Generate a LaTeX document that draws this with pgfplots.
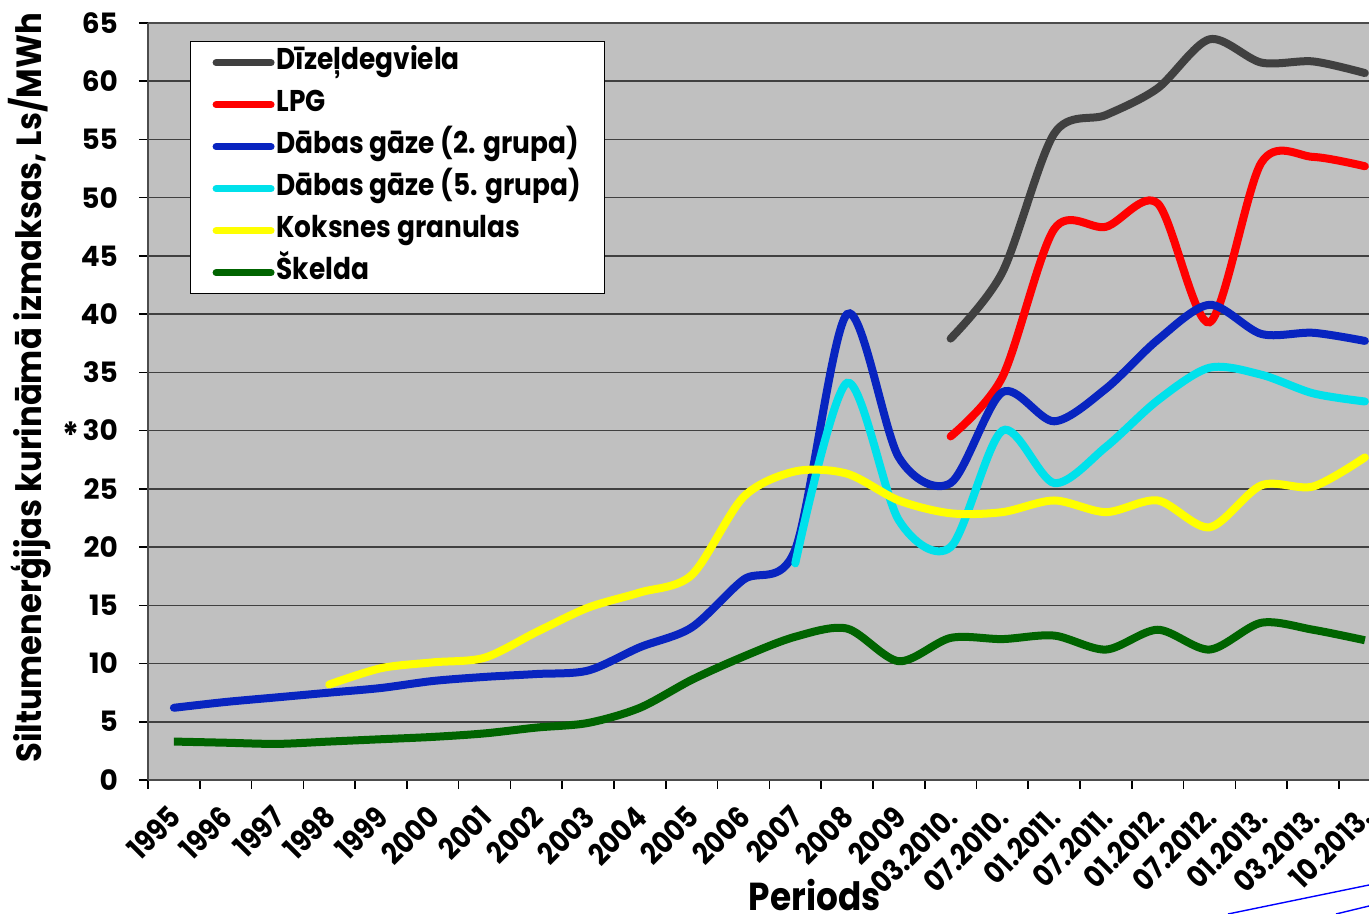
\documentclass[border=0pt]{standalone}
\usepackage{fontspec}
\setmainfont{Poppins}[FakeStretch=0.88]
\newfontfamily\lblfont{Poppins}[FakeStretch=0.92]
\newfontfamily\tickfont{Poppins}
\usepackage{pgfplots}
\pgfplotsset{compat=1.18}
\definecolor{cdiesel}{RGB}{64,64,64}
\definecolor{clpg}{RGB}{255,0,0}
\definecolor{cgas}{RGB}{8,36,192}
\definecolor{ccyan}{RGB}{0,225,235}
\definecolor{cyel}{RGB}{255,255,0}
\definecolor{cgreen}{RGB}{0,100,0}
\definecolor{cbg}{RGB}{192,192,192}
\begin{document}
\begin{tikzpicture}
\path[use as bounding box] (0,0) rectangle (684.5pt,457pt);
\begin{axis}[
  at={(74pt,67pt)}, anchor=south west,
  scale only axis, width=610.5pt, height=378.5pt,
  xmin=-0.5, xmax=23.08, ymin=0, ymax=65,
  axis background/.style={fill=cbg},
  axis x line=box, axis y line*=left,
  axis line style={draw=black!70, line width=1pt},
  ytick={0,5,...,65},
  ymajorgrids, grid style={draw=black!75, line width=0.8pt},
  xtick={0,...,23}, major x tick style={draw=none},
  minor xtick={-0.5,0.5,...,23.5},
  xtick pos=bottom, ytick pos=left,
  tick align=outside, major tick length=4.5pt, minor tick length=4.5pt,
  every tick/.style={draw=black, line width=0.8pt},
  xticklabels={1995,1996,1997,1998,1999,2000,2001,2002,2003,2004,2005,2006,2007,2008,2009,03.2010.,07.2010.,01.2011.,07.2011.,01.2012.,07.2012.,01.2013.,03.2013.,10.2013.},
  xticklabel style={xshift=-3.5pt, rotate=45, anchor=north east, font=\fontsize{15}{17}\selectfont\bfseries},
  xticklabel shift=2.5pt,
  yticklabel style={font=\tickfont\fontsize{14}{16}\selectfont\bfseries, xshift=-7pt},
  /pgf/number format/assume math mode=true,
  every axis y label/.style={at={(axis description cs:-0.0966,0.518)}, rotate=90, anchor=center},
  ylabel={Siltumenerģijas kurināmā izmaksas, Ls/MWh},
  ylabel style={font=\lblfont\fontsize{17.5}{20}\selectfont\bfseries},
  every axis x label/.style={at={(axis description cs:0.546,-0.152)}, anchor=center},
  xlabel={Periods},
  xlabel style={font=\fontsize{19.5}{24}\selectfont\bfseries},
  legend style={at={(rel axis cs:0.0344,0.976)}, anchor=north west,
    draw=black, line width=0.6pt, fill=white, font=\fontsize{15}{18}\selectfont\bfseries,
    inner xsep=11pt, inner ysep=1.5pt, row sep=3pt,
    nodes={inner xsep=1pt, inner ysep=1.5pt, text height=11pt, text depth=4pt}},
  legend cell align=left,
  legend image code/.code={\draw[#1, line width=3.5pt, line cap=round] (1.5pt,0pt) -- (29pt,0pt);},
  clip mode=individual,
]
\addplot[cdiesel, line width=4pt, smooth, tension=0.5, line cap=round] coordinates {
(15,37.9)(16,43.6)(17,55.5)(18,57.1)(19,59.4)(20,63.6)(21,61.6)(22,61.7)(23,60.7)};
\addlegendentry{Dīzeļdegviela}
\addplot[clpg, line width=4pt, smooth, tension=0.5, line cap=round] coordinates {
(15,29.5)(16,34.6)(17,47.3)(18,47.5)(19,49.5)(20,39.3)(21,53.0)(22,53.5)(23,52.7)};
\addlegendentry{LPG}
\addplot[cgas, line width=4pt, smooth, tension=0.5, line cap=round] coordinates {
(0,6.2)(1,6.7)(2,7.1)(3,7.5)(4,7.9)(5,8.5)(6,8.85)(7,9.1)(8,9.4)(9,11.4)(10,13.1)(11,17.2)(12,19.8)(13,40.0)(14,27.7)(15,25.5)(16,33.3)(17,30.8)(18,33.6)(19,37.8)(20,40.8)(21,38.3)(22,38.4)(23,37.7)};
\addlegendentry{Dābas gāze (2. grupa)}
\addplot[ccyan, line width=4pt, smooth, tension=0.5, line cap=round] coordinates {
(12,18.6)(13,34.1)(14,22.3)(15,20.0)(16,30.0)(17,25.5)(18,28.6)(19,32.6)(20,35.4)(21,34.8)(22,33.2)(23,32.5)};
\addlegendentry{Dābas gāze (5. grupa)}
\addplot[cyel, line width=4pt, smooth, tension=0.5, line cap=round] coordinates {
(3,8.2)(4,9.6)(5,10.1)(6,10.5)(7,12.7)(8,14.8)(9,16.1)(10,17.6)(11,24.3)(12,26.5)(13,26.3)(14,24.0)(15,22.9)(16,23.0)(17,24.0)(18,23.0)(19,24.0)(20,21.7)(21,25.3)(22,25.2)(23,27.7)};
\addlegendentry{Koksnes granulas}
\addplot[cgreen, line width=4pt, smooth, tension=0.5] coordinates {
(0,3.3)(1,3.2)(2,3.1)(3,3.3)(4,3.5)(5,3.7)(6,4.0)(7,4.5)(8,4.9)(9,6.2)(10,8.6)(11,10.6)(12,12.3)(13,13.0)(14,10.2)(15,12.2)(16,12.1)(17,12.4)(18,11.2)(19,12.9)(20,11.2)(21,13.5)(22,12.9)(23,12.0)};
\addlegendentry{Škelda}
\node[font=\fontsize{18}{20}\selectfont\bfseries] at (axis description cs:-0.063,0.455) {*};
\end{axis}
\draw[blue, line width=0.7pt] (614pt,0pt) -- (684.5pt,14.5pt);
\draw[blue, line width=0.7pt] (668pt,0pt) -- (684.5pt,4pt);
\end{tikzpicture}
\end{document}
